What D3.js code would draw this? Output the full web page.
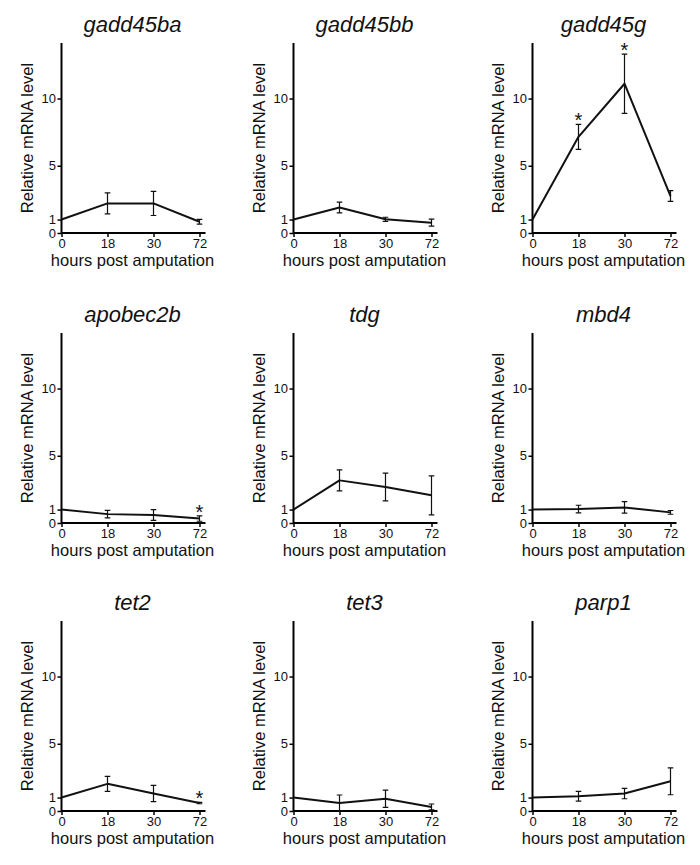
<!DOCTYPE html>
<html>
<head>
<meta charset="utf-8">
<script src="https://cdn.jsdelivr.net/npm/d3@7"></script>
<style>
  html, body { margin: 0; padding: 0; background: #fff; }
  svg { display: block; }
  text { font-family: "Liberation Sans", Arial, Helvetica, sans-serif; fill: #111; }
</style>
</head>
<body>
<svg id="chart" width="700" height="865"></svg>
<script>
// ---- data ----
const genes = ["gadd45ba", "gadd45bb", "gadd45g", "apobec2b", "tdg", "mbd4", "tet2", "tet3", "parp1"];
const hours = ["0", "18", "30", "72"];
const yTicks = [0, 1, 5, 10];
const gadd45baMean = [1, 2.2, 2.2, 0.84];
const gadd45baErr  = [0, 0.78, 0.9, 0.18];
const gadd45bbMean = [1, 1.9, 1.02, 0.77];
const gadd45bbErr  = [0, 0.4, 0.15, 0.26];
const gadd45gMean  = [1, 7.15, 11.1, 2.75];
const gadd45gErr   = [0, 0.93, 2.2, 0.4];
const apobec2bMean = [1, 0.66, 0.6, 0.33];
const apobec2bErr  = [0, 0.28, 0.4, 0.2];
const tdgMean      = [1, 3.17, 2.68, 2.06];
const tdgErr       = [0, 0.78, 1.03, 1.45];
const mbd4Mean     = [1, 1.04, 1.16, 0.79];
const mbd4Err      = [0, 0.28, 0.43, 0.14];
const tet2Mean     = [1, 2.02, 1.3, 0.59];
const tet2Err      = [0, 0.56, 0.6, 0.05];
const tet3Mean     = [1, 0.59, 0.91, 0.3];
const tet3Err      = [0, 0.6, 0.64, 0.22];
const parp1Mean    = [1, 1.1, 1.3, 2.21];
const parp1Err     = [0, 0.36, 0.39, 1.0];
const significant = {gadd45g: ["18", "30"], apobec2b: ["72"], tet2: ["72"]};

const means = [gadd45baMean, gadd45bbMean, gadd45gMean, apobec2bMean, tdgMean, mbd4Mean, tet2Mean, tet3Mean, parp1Mean];
const errs  = [gadd45baErr, gadd45bbErr, gadd45gErr, apobec2bErr, tdgErr, mbd4Err, tet2Err, tet3Err, parp1Err];

// ---- layout ----
const colX = [61.5, 293.5, 532.5];
const rowY0 = [233, 523, 811];
const plotH = 190, yMax = 14.13, xSpan = 138, xAxisLen = 144;

const svg = d3.select("#chart");

genes.forEach((gene, i) => {
  const col = i % 3, row = Math.floor(i / 3);
  const ox = colX[col], oy = rowY0[row];
  const g = svg.append("g").attr("transform", `translate(${ox},${oy - plotH})`);

  const y = d3.scaleLinear().domain([0, yMax]).range([plotH, 0]);
  const x = d3.scalePoint().domain(hours).range([0, xSpan]);

  // y axis
  const ya = g.append("g")
    .call(d3.axisLeft(y).tickValues(yTicks).tickSize(4).tickPadding(1.5).tickFormat(d3.format("d")));
  ya.select(".domain").attr("d", `M0,0V${plotH}`).attr("stroke-width", 2);
  ya.selectAll(".tick line").attr("stroke-width", 1.5);
  ya.selectAll("text").attr("font-size", 13).attr("font-family", "Liberation Sans, Arial, sans-serif");

  // x axis
  const xa = g.append("g").attr("transform", `translate(0,${plotH})`)
    .call(d3.axisBottom(x).tickSize(4).tickPadding(1.5));
  xa.select(".domain").attr("d", `M0,0H${xAxisLen}`).attr("stroke-width", 2);
  xa.selectAll(".tick line").attr("stroke-width", 1.5);
  xa.selectAll("text").attr("font-size", 13).attr("font-family", "Liberation Sans, Arial, sans-serif");

  const pts = hours.map((h, k) => ({h, m: means[i][k], e: errs[i][k]}));

  // error bars
  const eb = g.append("g").attr("stroke", "#111").attr("stroke-width", 1.2).attr("fill", "none");
  pts.filter(p => p.e > 0).forEach(p => {
    const cx = x(p.h), top = y(p.m + p.e), bot = y(Math.max(0, p.m - p.e)), w = 2.8;
    eb.append("path").attr("d", `M${cx},${top}V${bot}M${cx - w},${top}H${cx + w}M${cx - w},${bot}H${cx + w}`);
  });

  // line
  g.append("path").datum(pts)
    .attr("fill", "none").attr("stroke", "#111").attr("stroke-width", 2).attr("stroke-linejoin", "round")
    .attr("d", d3.line().x(p => x(p.h)).y(p => y(p.m)));

  // significance asterisks
  (significant[gene] || []).forEach(h => {
    const p = pts.find(q => q.h === h);
    g.append("text").attr("x", x(h)).attr("y", y(p.m + p.e) + 3)
      .attr("text-anchor", "middle").attr("font-size", 20).attr("fill", "#333").text("*");
  });

  // title
  g.append("text").attr("x", 71).attr("y", plotH - 201)
    .attr("text-anchor", "middle").attr("font-size", 22).attr("font-style", "italic").text(gene);

  // y label
  g.append("text").attr("transform", `translate(-28.5,${plotH / 2}) rotate(-90)`)
    .attr("text-anchor", "middle").attr("font-size", 16.5).text("Relative mRNA level");

  // x label
  g.append("text").attr("x", 71).attr("y", plotH + 33)
    .attr("text-anchor", "middle").attr("font-size", 16.5).text("hours post amputation");
});
</script>
</body>
</html>
